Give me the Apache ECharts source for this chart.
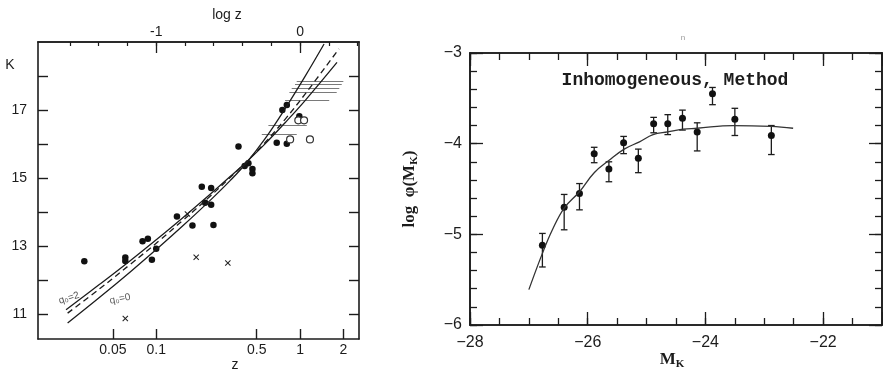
<!DOCTYPE html>
<html><head><meta charset="utf-8">
<script src="https://cdn.jsdelivr.net/npm/echarts@6/dist/echarts.min.js"></script>
<style>html,body{margin:0;padding:0;background:#fff}#c{width:883px;height:372px}</style>
</head><body><div id="c"></div>
<script>
// ===== Left panel: K vs z (log scale) =====
const bottomTickZ = [0.05, 0.1, 0.5, 1, 2];
const bottomTickLabels = ['0.05', '0.1', '0.5', '1', '2'];
const topTickLogZ = [-1.6, -1.4, -1.2, -1.0, -0.8, -0.6, -0.4, -0.2, 0, 0.2, 0.4];
const topLabelLogZ = [-1, 0];
const kTicks = [11, 12, 13, 14, 15, 16, 17, 18];
const kLabels = [11, 13, 15, 17];

const dotsLogZ = [-1.50, -1.215, -1.215, -1.095, -1.058, -1.030, -1.0, -0.856, -0.748, -0.683, -0.618, -0.660, -0.618, -0.602, -0.428, -0.359, -0.385, -0.331, -0.331, -0.123, -0.092, -0.162, -0.092, -0.005];
const dotsK    = [12.56, 12.67, 12.57, 13.15, 13.22, 12.61, 12.93, 13.88, 13.61, 14.75, 14.71, 14.28, 14.22, 13.63, 15.93, 15.44, 15.36, 15.27, 15.15, 17.0, 17.15, 16.04, 16.01, 16.82];

const openLogZ = [-0.012, 0.028, -0.069, 0.069];
const openK    = [16.70, 16.70, 16.14, 16.14];

const crossLogZ = [-0.783, -0.722, -0.502, -1.215];
const crossK    = [13.95, 12.68, 12.51, 10.88];

const limitFromLogZ = [-0.023, -0.035, -0.058, -0.074, -0.104, -0.220, -0.266];
const limitToLogZ   = [0.301, 0.290, 0.273, 0.255, 0.203, 0.047, -0.023];
const limitK        = [17.85, 17.75, 17.64, 17.53, 17.28, 16.56, 16.29];

const curveQ2LogZ  = [-1.627, -1.389, -1.181, -0.972, -0.813, -0.625, -0.486, -0.375, -0.243, -0.104, 0.035, 0.257];
const curveQ2K     = [11.14, 11.90, 12.58, 13.29, 13.85, 14.53, 15.05, 15.47, 16.01, 16.63, 17.28, 18.40];
const curveMidLogZ = [-1.616, -1.389, -1.181, -0.972, -0.813, -0.625, -0.486, -0.375, -0.243, -0.104, 0.035, 0.271];
const curveMidK    = [11.04, 11.77, 12.47, 13.19, 13.77, 14.47, 15.02, 15.47, 16.05, 16.73, 17.47, 18.80];
const curveQ0LogZ  = [-1.616, -1.389, -1.181, -0.972, -0.813, -0.625, -0.486, -0.375, -0.243, -0.104, 0.035, 0.167];
const curveQ0K     = [10.75, 11.52, 12.25, 13.01, 13.61, 14.35, 14.93, 15.44, 16.16, 17.04, 17.99, 18.94];

// ===== Right panel: log phi(M_K) vs M_K =====
const mk        = [-26.77, -26.40, -26.14, -25.89, -25.64, -25.39, -25.14, -24.88, -24.64, -24.39, -24.14, -23.88, -23.50, -22.88];
const logPhi    = [-5.12, -4.70, -4.55, -4.11, -4.28, -3.99, -4.16, -3.78, -3.78, -3.72, -3.87, -3.45, -3.73, -3.91];
const logPhiHi  = [-4.99, -4.56, -4.44, -4.04, -4.20, -3.92, -4.06, -3.71, -3.68, -3.63, -3.77, -3.38, -3.61, -3.80];
const logPhiLo  = [-5.36, -4.95, -4.73, -4.21, -4.42, -4.11, -4.32, -3.88, -3.90, -3.85, -4.08, -3.57, -3.91, -4.12];
const fitM      = [-27.00, -26.77, -26.60, -26.40, -26.14, -25.89, -25.63, -25.38, -25.12, -24.89, -24.64, -24.38, -24.14, -23.53, -22.88, -22.51];
const fitLogPhi = [-5.61, -5.21, -4.95, -4.71, -4.53, -4.32, -4.18, -4.06, -3.98, -3.90, -3.87, -3.84, -3.83, -3.80, -3.81, -3.83];

const INK = '#1c1c1c';
const zip = (a, b) => a.map((v, i) => [v, b[i]]);
const bottomTickLog = bottomTickZ.map(z => Math.log10(z));
const minus = v => (v < 0 ? '\u2212' + Math.abs(v) : String(v));

const lineAx = { show: true, onZero: false, lineStyle: { color: INK, width: 1.6 } };
const noLabel = { show: false };
const noSplit = { show: false };

const xAxes = [
  { gridIndex: 0, type: 'value', position: 'bottom', min: -1.822, max: 0.41, axisLine: lineAx, splitLine: noSplit,
    axisTick: { inside: true, length: 10, customValues: bottomTickLog, lineStyle: { color: INK, width: 1.4 } },
    axisLabel: { customValues: bottomTickLog, margin: 4, color: INK, fontSize: 14, fontFamily: 'Liberation Sans',
      formatter: v => { const i = bottomTickLog.findIndex(t => Math.abs(t - v) < 1e-6); return i >= 0 ? bottomTickLabels[i] : ''; } } },
  { gridIndex: 0, type: 'value', position: 'top', min: -1.822, max: 0.41, axisLine: lineAx, splitLine: noSplit,
    axisTick: { inside: true, length: 4, customValues: topTickLogZ, lineStyle: { color: INK, width: 1.2 } }, axisLabel: noLabel },
  { gridIndex: 0, type: 'value', position: 'top', min: -1.822, max: 0.41, axisLine: lineAx, splitLine: noSplit,
    axisTick: { inside: true, length: 11, customValues: topLabelLogZ, lineStyle: { color: INK, width: 1.3 } },
    axisLabel: { customValues: topLabelLogZ, margin: 3, color: INK, fontSize: 14, fontFamily: 'Liberation Sans',
      formatter: v => (Math.abs(v) < 1e-6 ? '0' : '-1') } },
  { gridIndex: 1, type: 'value', position: 'bottom', min: -28, max: -21, interval: 0.5, axisLine: lineAx, splitLine: noSplit,
    axisTick: { inside: true, length: 7, lineStyle: { color: INK, width: 1.3 } }, axisLabel: noLabel },
  { gridIndex: 1, type: 'value', position: 'bottom', min: -28, max: -21, interval: 2, axisLine: lineAx, splitLine: noSplit,
    axisTick: { inside: true, length: 13, lineStyle: { color: INK, width: 1.3 } },
    axisLabel: { margin: 10, color: INK, fontSize: 16, fontFamily: 'Liberation Sans',
      formatter: v => (Math.round(v) % 2 === 0 ? minus(v) : '') } },
  { gridIndex: 1, type: 'value', position: 'top', min: -28, max: -21, interval: 0.5, axisLine: lineAx, splitLine: noSplit,
    axisTick: { inside: true, length: 7, lineStyle: { color: INK, width: 1.3 } }, axisLabel: noLabel },
  { gridIndex: 1, type: 'value', position: 'top', min: -28, max: -21, interval: 2, axisLine: lineAx, splitLine: noSplit,
    axisTick: { inside: true, length: 13, lineStyle: { color: INK, width: 1.3 } }, axisLabel: noLabel }
];

const yAxes = [
  { gridIndex: 0, type: 'value', position: 'left', min: 10.28, max: 19, axisLine: lineAx, splitLine: noSplit,
    axisTick: { inside: true, length: 10, customValues: kTicks, lineStyle: { color: INK, width: 1.4 } },
    axisLabel: { customValues: kLabels, margin: 11, color: INK, fontSize: 14, fontFamily: 'Liberation Sans' } },
  { gridIndex: 0, type: 'value', position: 'right', min: 10.28, max: 19, axisLine: lineAx, splitLine: noSplit,
    axisTick: { inside: true, length: 10, customValues: kTicks, lineStyle: { color: INK, width: 1.4 } }, axisLabel: noLabel },
  { gridIndex: 1, type: 'value', position: 'left', min: -6, max: -3, interval: 0.2, axisLine: lineAx, splitLine: noSplit,
    axisTick: { inside: true, length: 7, lineStyle: { color: INK, width: 1.3 } }, axisLabel: noLabel },
  { gridIndex: 1, type: 'value', position: 'left', min: -6, max: -3, interval: 1, axisLine: lineAx, splitLine: noSplit,
    axisTick: { inside: true, length: 13, lineStyle: { color: INK, width: 1.3 } },
    axisLabel: { margin: 8, color: INK, fontSize: 16, fontFamily: 'Liberation Sans', formatter: v => minus(v) } },
  { gridIndex: 1, type: 'value', position: 'right', min: -6, max: -3, interval: 0.2, axisLine: lineAx, splitLine: noSplit,
    axisTick: { inside: true, length: 7, lineStyle: { color: INK, width: 1.3 } }, axisLabel: noLabel },
  { gridIndex: 1, type: 'value', position: 'right', min: -6, max: -3, interval: 1, axisLine: lineAx, splitLine: noSplit,
    axisTick: { inside: true, length: 13, lineStyle: { color: INK, width: 1.3 } }, axisLabel: noLabel }
];

const crossPath = 'path://M0,1.2L1.2,0L5,3.8L8.8,0L10,1.2L6.2,5L10,8.8L8.8,10L5,6.2L1.2,10L0,8.8L3.8,5Z';

const series = [
  { type: 'line', xAxisIndex: 0, yAxisIndex: 0, data: zip(curveQ2LogZ, curveQ2K), smooth: 0.4, symbol: 'none',
    lineStyle: { color: INK, width: 1.3 } },
  { type: 'line', xAxisIndex: 0, yAxisIndex: 0, data: zip(curveMidLogZ, curveMidK), smooth: 0.4, symbol: 'none',
    lineStyle: { color: INK, width: 1.3, type: [6, 4] } },
  { type: 'line', xAxisIndex: 0, yAxisIndex: 0, data: zip(curveQ0LogZ, curveQ0K), smooth: 0.4, symbol: 'none',
    lineStyle: { color: INK, width: 1.3 } },
  { type: 'lines', coordinateSystem: 'cartesian2d', xAxisIndex: 0, yAxisIndex: 0,
    data: limitK.map((k, i) => ({ coords: [[limitFromLogZ[i], k], [limitToLogZ[i], k]] })),
    lineStyle: { color: '#7a7a7a', width: 1.1, opacity: 1 } },
  { type: 'scatter', xAxisIndex: 0, yAxisIndex: 0, data: zip(dotsLogZ, dotsK), symbol: 'circle', symbolSize: 6.5,
    itemStyle: { color: '#111', opacity: 1 } },
  { type: 'scatter', xAxisIndex: 0, yAxisIndex: 0, data: zip(openLogZ, openK), symbol: 'circle', symbolSize: 7,
    itemStyle: { color: '#fff', borderColor: '#333', borderWidth: 1.2, opacity: 1 } },
  { type: 'scatter', xAxisIndex: 0, yAxisIndex: 0, data: zip(crossLogZ, crossK), symbol: crossPath, symbolSize: 6,
    itemStyle: { color: '#222', opacity: 1 } },

  { type: 'line', xAxisIndex: 3, yAxisIndex: 2, data: zip(fitM, fitLogPhi), smooth: 0.4, symbol: 'none',
    lineStyle: { color: '#333', width: 1.3 } },
  { type: 'custom', xAxisIndex: 3, yAxisIndex: 2,
    data: mk.map((m, i) => [m, logPhiLo[i], logPhiHi[i]]),
    encode: { x: 0, y: [1, 2] },
    renderItem: (params, api) => {
      const x = api.value(0);
      const a = api.coord([x, api.value(2)]);
      const b = api.coord([x, api.value(1)]);
      const w = 3.3, st = { stroke: INK, lineWidth: 1.3 };
      return { type: 'group', children: [
        { type: 'line', shape: { x1: a[0], y1: a[1], x2: b[0], y2: b[1] }, style: st },
        { type: 'line', shape: { x1: a[0] - w, y1: a[1], x2: a[0] + w, y2: a[1] }, style: st },
        { type: 'line', shape: { x1: b[0] - w, y1: b[1], x2: b[0] + w, y2: b[1] }, style: st }
      ] };
    } },
  { type: 'scatter', xAxisIndex: 3, yAxisIndex: 2, data: zip(mk, logPhi), symbol: 'circle', symbolSize: 7,
    itemStyle: { color: '#111', opacity: 1 } }
];

const txt = (x, y, text, extra) => ({ type: 'text', x, y, silent: true, ...(extra || {}),
  style: Object.assign({ text, fill: INK, fontSize: 14, fontFamily: 'Liberation Sans', align: 'center', verticalAlign: 'middle',
    textAlign: 'center', textVerticalAlign: 'middle' }, (extra && extra.s) || {}) });

const graphic = [
  txt(227, 15, 'log z'),
  txt(235, 365, 'z'),
  txt(10, 65, 'K'),
  txt(69, 298, 'q\u2080=2', { rotation: 0.3, s: { fontSize: 10, fill: '#555' } }),
  txt(120, 299, 'q\u2080=0', { rotation: 0.2, s: { fontSize: 10, fill: '#555' } }),
  txt(675, 80, 'Inhomogeneous, Method', { s: { fontSize: 18, fontWeight: 'bold', fontFamily: 'Liberation Mono' } }),
  txt(683, 38, 'n', { s: { fontSize: 8, fill: '#999' } }),
  txt(410, 189, '{a|log  \u03c6(M}{b|K}{a|)}', { rotation: Math.PI / 2, s: { rich: {
    a: { fontSize: 17, fontWeight: 'bold', fontFamily: 'Liberation Serif', fill: INK, lineHeight: 20, verticalAlign: 'middle' },
    b: { fontSize: 11, fontWeight: 'bold', fontFamily: 'Liberation Serif', fill: INK, lineHeight: 6, verticalAlign: 'bottom' } } } }),
  txt(672, 360, '{a|M}{b|K}', { s: { rich: {
    a: { fontSize: 17, fontWeight: 'bold', fontFamily: 'Liberation Serif', fill: INK, lineHeight: 20, verticalAlign: 'middle' },
    b: { fontSize: 11, fontWeight: 'bold', fontFamily: 'Liberation Serif', fill: INK, lineHeight: 6, verticalAlign: 'bottom' } } } })
];

const chart = echarts.init(document.getElementById('c'), null, { renderer: 'canvas' });
chart.setOption({
  animation: false,
  backgroundColor: '#fff',
  grid: [
    { left: 38, top: 42, width: 321, height: 297, outerBoundsMode: 'none', containLabel: false },
    { left: 470, top: 53, width: 412, height: 272, outerBoundsMode: 'none', containLabel: false }
  ],
  xAxis: xAxes,
  yAxis: yAxes,
  series: series,
  graphic: graphic
});
</script></body></html>
